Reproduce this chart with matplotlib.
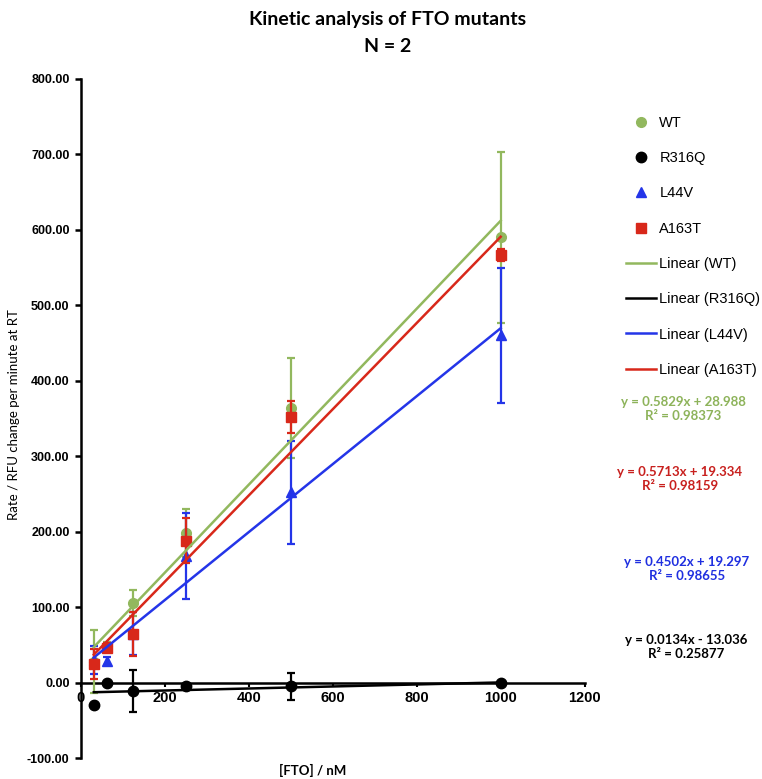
import matplotlib
matplotlib.use('Agg')
import matplotlib.pyplot as plt
from matplotlib.lines import Line2D

# [FTO] concentrations (nM)
conc = [31.25, 62.5, 125, 250, 500, 1000]

# rates (RFU change per minute) with error bars
wt = [28, 48, 106, 198, 364, 590]
wt_err = [42, 6, 17, 32, 66, 113]
r316q = [-30, -1, -11, -5, -5, 0]
r316q_err = [0, 0, 28, 3, 18, 0]
l44v = [30, 29, 65, 168, 252, 460]
l44v_err = [18, 5, 28, 57, 68, 89]
a163t = [25, 46, 65, 188, 352, 566]
a163t_err = [20, 6, 29, 30, 21, 8]

# linear trend lines (slope, intercept, R^2) as reported on the chart
names = ['WT', 'R316Q', 'L44V', 'A163T']
slopes = [0.5829, 0.0134, 0.4502, 0.5713]
intercepts = [28.988, -13.036, 19.297, 19.334]
r2 = [0.98373, 0.25877, 0.98655, 0.98159]

colors = ['#92B85E', '#000000', '#2435E8', '#D8281A']
eq_colors = ['#8DB35A', '#000000', '#1F2FE0', '#C8201E']
markers = ['o', 'o', '^', 's']
msizes = [7, 7.5, 7, 7]

ys = [wt, r316q, l44v, a163t]
errs = [wt_err, r316q_err, l44v_err, a163t_err]

tick_font = 'Liberation Sans'
cal_font = 'Lato'

fig = plt.figure(figsize=(7.62, 7.79), dpi=100)
ax = fig.add_axes([0.1059, 0.0267, 0.6614, 0.8723])

for i in range(4):
    ax.errorbar(conc, ys[i], yerr=errs[i], fmt=markers[i], color=colors[i],
                ms=msizes[i], elinewidth=1.6, capsize=3, capthick=1.6,
                zorder=3 + i)

xmin, xmax = min(conc), max(conc)
for i in range(4):
    ax.plot([xmin, xmax],
            [slopes[i] * xmin + intercepts[i], slopes[i] * xmax + intercepts[i]],
            color=colors[i], lw=1.8, zorder=8)

ax.set_xlim(0, 1200)
ax.set_ylim(-100, 800)
ax.set_xticks(range(0, 1201, 200))
ax.set_yticks(range(-100, 801, 100))
ax.set_yticklabels(['%.2f' % v for v in range(-100, 801, 100)])

ax.spines['top'].set_visible(False)
ax.spines['right'].set_visible(False)
ax.spines['bottom'].set_position(('data', 0))
ax.spines['left'].set_position(('data', 0))
for s in ['bottom', 'left']:
    ax.spines[s].set_linewidth(1.8)
    ax.spines[s].set_zorder(2)
ax.tick_params(axis='y', direction='out', length=4, width=1.8, pad=4)
ax.tick_params(axis='x', direction='out', length=3, width=1.5, pad=3)
for lab in ax.get_yticklabels():
    lab.set_fontfamily(tick_font)
    lab.set_fontweight('bold')
    lab.set_fontsize(9)
for lab in ax.get_xticklabels():
    lab.set_fontfamily(tick_font)
    lab.set_fontweight('bold')
    lab.set_fontsize(10.5)

# titles and axis labels
fig.text(388 / 762, 1 - 19 / 779, 'Kinetic analysis of FTO mutants',
         ha='center', va='center', fontsize=14, fontweight='bold',
         family=cal_font)
fig.text(388 / 762, 1 - 47 / 779, 'N = 2', ha='center', va='center',
         fontsize=14, fontweight='bold', family=cal_font)
fig.text(14 / 762, 1 - 415 / 779, 'Rate / RFU change per minute at RT',
         rotation=90, ha='center', va='center', fontsize=9.5, family=cal_font)
fig.text(313 / 762, 1 - 770 / 779, '[FTO] / nM', ha='center', va='center',
         fontsize=9.5, fontweight='bold', family=cal_font)

# legend
handles = []
labels = []
for i in range(4):
    handles.append(Line2D([], [], ls='none', marker=markers[i],
                          color=colors[i], ms=msizes[i]))
    labels.append(names[i])
for i in range(4):
    handles.append(Line2D([], [], color=colors[i], lw=1.8))
    labels.append('Linear (%s)' % names[i])
fig.legend(handles, labels, loc='upper left',
           bbox_to_anchor=(620 / 762, 1 - 110 / 779), frameon=False,
           prop={'family': tick_font, 'size': 10.5}, handlelength=2.1,
           handletextpad=0.2, labelspacing=1.46, borderaxespad=0)

# trendline equations
eq_pos = [(683, 401), (686, 638), (687, 560), (680, 471)]
for i in range(4):
    sign = '+' if intercepts[i] >= 0 else '-'
    txt = 'y = %.4fx %s %.3f\nR² = %.5f' % (slopes[i], sign,
                                           abs(intercepts[i]), r2[i])
    x, y = eq_pos[i]
    fig.text(x / 762, 1 - (y + 8.5) / 779, txt, ha='center', va='center',
             fontsize=9.5, fontweight='bold', color=eq_colors[i],
             family=cal_font, linespacing=1.2, multialignment='center')

fig.savefig('out.png', dpi=100)
